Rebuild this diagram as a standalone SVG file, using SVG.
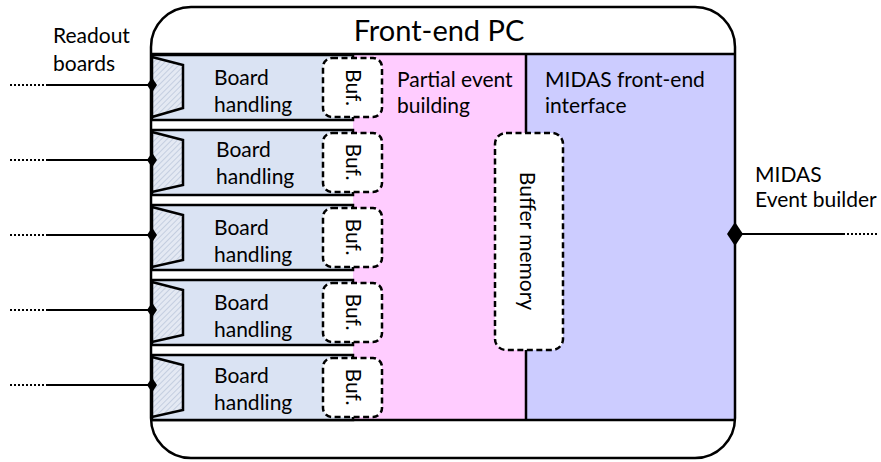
<svg xmlns="http://www.w3.org/2000/svg" width="881" height="462" viewBox="0 0 881 462">
<defs>
<pattern id="hatch" width="4" height="4" patternUnits="userSpaceOnUse" patternTransform="rotate(45)">
<rect width="4" height="4" fill="#e4e9f3"/>
<line x1="0" y1="0" x2="0" y2="4" stroke="#b7c3d8" stroke-width="1.4"/>
</pattern>
</defs>
<style>
.t{font-family:Lato,"Liberation Sans",sans-serif;font-size:21px;fill:#000}
.line{fill:none;stroke:#000;stroke-width:2.5}
.board{fill:#dae3f3;stroke:#000;stroke-width:2.5}
.buf{fill:#fff;stroke:#000;stroke-width:2.5;stroke-dasharray:6 3.5}
.conn{fill:url(#hatch);stroke:#000;stroke-width:2.5}
.wire{stroke:#000;stroke-width:2;fill:none}
.dot{stroke:#000;stroke-width:2;stroke-dasharray:2 2;fill:none}
.dia{fill:#000}
</style>
<g id="frontend-pc">
<rect x="151" y="7" width="584" height="451" rx="40" fill="#fff"/>
<rect x="353" y="54" width="173" height="366" fill="#ffccff"/>
<rect x="526" y="54" width="209" height="366" fill="#ccccff"/>
<line class="line" x1="151" y1="54" x2="735" y2="54"/>
<line class="line" x1="151" y1="420" x2="735" y2="420"/>
<line class="line" x1="526" y1="54" x2="526" y2="420"/>
<text class="t" x="439" y="41" font-size="29" text-anchor="middle" style="font-size:29px">Front-end PC</text>
</g>
<g id="partial-event-building">
<text class="t" x="397" y="87">Partial event</text>
<text class="t" x="397" y="113">building</text>
</g>
<g id="midas-frontend-interface">
<text class="t" x="545" y="87">MIDAS front-end</text>
<text class="t" x="545" y="113">interface</text>
</g>
<g id="board1">
<rect class="board" x="152" y="55" width="201" height="65"/>
<polygon class="conn" points="152,57 183,65 183,108 152,117"/>
<text class="t" x="214" y="85">Board</text>
<text class="t" x="214" y="112">handling</text>
</g>
<g id="board2">
<rect class="board" x="152" y="130" width="201" height="65"/>
<polygon class="conn" points="152,132 183,140 183,185 152,192"/>
<text class="t" x="216" y="156.5">Board</text>
<text class="t" x="216" y="184">handling</text>
</g>
<g id="board3">
<rect class="board" x="152" y="205" width="201" height="65"/>
<polygon class="conn" points="152,207 183,215 183,260 152,267"/>
<text class="t" x="214" y="235">Board</text>
<text class="t" x="214" y="262">handling</text>
</g>
<g id="board4">
<rect class="board" x="152" y="280" width="201" height="65"/>
<polygon class="conn" points="152,282 183,290 183,335 152,342"/>
<text class="t" x="214" y="310">Board</text>
<text class="t" x="214" y="337">handling</text>
</g>
<g id="board5">
<rect class="board" x="152" y="355" width="201" height="65"/>
<polygon class="conn" points="152,357 183,365 183,410 152,417"/>
<text class="t" x="214" y="383">Board</text>
<text class="t" x="214" y="410">handling</text>
</g>
<g id="buf1">
<rect class="buf" x="323" y="58" width="59" height="59" rx="9"/>
<text class="t" transform="translate(346,87.5) rotate(90)" text-anchor="middle">Buf.</text>
</g>
<g id="buf2">
<rect class="buf" x="323" y="133" width="59" height="59" rx="9"/>
<text class="t" transform="translate(346,162) rotate(90)" text-anchor="middle">Buf.</text>
</g>
<g id="buf3">
<rect class="buf" x="323" y="208" width="59" height="59" rx="9"/>
<text class="t" transform="translate(346,237) rotate(90)" text-anchor="middle">Buf.</text>
</g>
<g id="buf4">
<rect class="buf" x="323" y="283" width="59" height="59" rx="9"/>
<text class="t" transform="translate(346,312) rotate(90)" text-anchor="middle">Buf.</text>
</g>
<g id="buf5">
<rect class="buf" x="323" y="358" width="59" height="59" rx="9"/>
<text class="t" transform="translate(346,387) rotate(90)" text-anchor="middle">Buf.</text>
</g>
<g id="buffer-memory">
<rect class="buf" x="495" y="133" width="68" height="217" rx="11"/>
<text class="t" transform="translate(520,241) rotate(90)" text-anchor="middle">Buffer memory</text>
</g>
<g id="frame">
<rect x="151" y="7" width="584" height="451" rx="40" class="line"/>
</g>
<g id="readout-label">
<text class="t" x="53" y="43">Readout</text>
<text class="t" x="53" y="71">boards</text>
</g>
<g id="event-builder-label">
<text class="t" x="755" y="182">MIDAS</text>
<text class="t" x="755" y="207">Event builder</text>
</g>
<g id="connectors">
<line class="dot" x1="10" y1="85" x2="48" y2="85"/><line class="wire" x1="48" y1="85" x2="152" y2="85"/><polygon class="dia" points="152,77.5 157,85 152,92.5 147,85"/>
<line class="dot" x1="10" y1="160" x2="48" y2="160"/><line class="wire" x1="48" y1="160" x2="152" y2="160"/><polygon class="dia" points="152,152.5 157,160 152,167.5 147,160"/>
<line class="dot" x1="10" y1="235" x2="48" y2="235"/><line class="wire" x1="48" y1="235" x2="152" y2="235"/><polygon class="dia" points="152,227.5 157,235 152,242.5 147,235"/>
<line class="dot" x1="10" y1="310" x2="48" y2="310"/><line class="wire" x1="48" y1="310" x2="152" y2="310"/><polygon class="dia" points="152,302.5 157,310 152,317.5 147,310"/>
<line class="dot" x1="10" y1="385" x2="48" y2="385"/><line class="wire" x1="48" y1="385" x2="152" y2="385"/><polygon class="dia" points="152,377.5 157,385 152,392.5 147,385"/>
<line class="wire" x1="735" y1="234" x2="843" y2="234"/><line class="dot" x1="843" y1="234" x2="879" y2="234"/><polygon class="dia" points="735,222 743,234 735,246 727,234"/>
</g>
</svg>
